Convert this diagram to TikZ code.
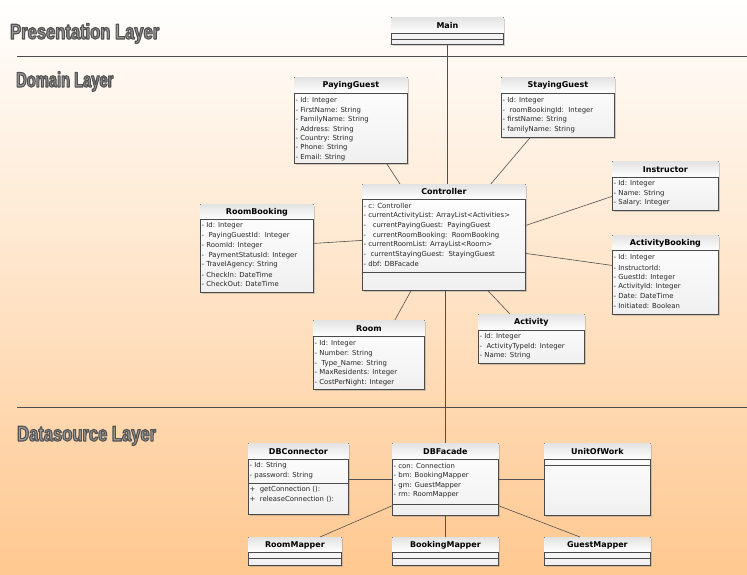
\documentclass[tikz,border=0pt]{standalone}
\usepackage{fontspec}
\setmainfont{DejaVu Sans}
\newfontfamily\layerfont[FakeStretch=0.7]{Liberation Sans}
\newfontfamily\layerfontwide[FakeStretch=0.77]{Liberation Sans}
\usetikzlibrary{shadows,calc}
\definecolor{bgmid}{HTML}{FDDDBF}
\definecolor{bgbot}{HTML}{FFC890}
\definecolor{boxline}{HTML}{4A4A4A}
\definecolor{connline}{HTML}{505050}
\definecolor{layertxt}{HTML}{9C9C9C}
\tikzset{
  classbox/.style={draw=boxline, line width=0.8pt, top color=white, bottom color=gray!12,
    drop shadow={opacity=0.35, shadow xshift=1.6pt, shadow yshift=-1.6pt},
    inner sep=0pt, anchor=north west},
  hdrfill/.style={top color=gray!22, bottom color=white},
  ctitle/.style={font=\bfseries\fontsize{8}{9}\selectfont, inner sep=0pt},
  cattr/.style={font=\fontsize{6.9}{7.5}\selectfont, inner sep=0pt, anchor=west, text=black!85},
  sepline/.style={draw=boxline, line width=0.6pt},
  conn/.style={draw=connline, line width=0.6pt},
  layerline/.style={draw=gray!60!black, line width=0.8pt},
  layerlabel/.style={font=\layerfont\bfseries\fontsize{21}{24}\selectfont, inner sep=0pt,
    anchor=base west, text=layertxt},
  layerlabelwide/.style={layerlabel, font=\layerfontwide\bfseries\fontsize{21.5}{24}\selectfont},
}
% name, x, y, w, h, title, header height
\newcommand\umlbox[7]{%
  \node[classbox, minimum width=#4pt, minimum height=#5pt] (#1) at (#2,#3) {};
  \fill[hdrfill] ($(#1.north west)+(0.5,0.5)$) rectangle ($(#1.north east)+(-0.5,#7)$);
  \draw[sepline] ($(#1.north west)+(0,#7)$) -- ($(#1.north east)+(0,#7)$);
  \node[ctitle] at ($(#1.north)+(0,#7/2+0.5)$) {#6};
}
\newcommand\sepat[2]{%
  \draw[sepline] ($(#1.north west)+(0,#2)$) -- ($(#1.north east)+(0,#2)$);
}
% name, first offset, spacing, list
\newcommand\attrlist[4]{%
  \foreach \t [count=\i] in {#4} {
    \node[cattr] at ($(#1.north west)+(1.5,{#2+(\i-1)*#3})$) {\t};
  }
}
% outlined text: fill + stroke rendering mode
\newcommand\outlinedtext[1]{%
  \special{pdf:literal direct 2 Tr 1.1 w 0.32 0.32 0.32 RG 1 j}#1\special{pdf:literal direct 0 Tr}}
\begin{document}
\begin{tikzpicture}[x=1pt, y=-1pt]
\useasboundingbox (0,0) rectangle (747,574);
\shade[top color=white, middle color=bgmid, bottom color=bgbot] (0,0) rectangle (747,574);

% layer separators and titles
\draw[layerline] (17,56) -- (747,56);
\draw[layerline] (17,407) -- (747,407);
\node[layerlabelwide] (lpres) at (10,39) {\outlinedtext{Presentation Layer}};
\node[layerlabel] (ldom) at (16,87) {\outlinedtext{Domain Layer}};
\node[layerlabelwide] (ldata) at (17,441) {\outlinedtext{Datasource Layer}};

% classes
\umlbox{Main}{391}{17}{112}{27}{Main}{16}
\sepat{Main}{22}

\umlbox{PayingGuest}{294}{77}{113}{86}{PayingGuest}{16}
\attrlist{PayingGuest}{24}{9.4}{{- Id: Integer},{- FirstName: String},{- FamilyName: String},{- Address: String},{- Country: String},{- Phone: String},{- Email: String}}

\umlbox{StayingGuest}{501}{77}{113}{60}{StayingGuest}{16}
\attrlist{StayingGuest}{24}{9.5}{{- Id: Integer},{-~~roomBookingId:~~Integer},{- firstName: String},{- familyName: String}}

\umlbox{Instructor}{612}{161}{106}{49}{Instructor}{16}
\attrlist{Instructor}{23}{9.5}{{- Id: Integer},{- Name: String},{- Salary: Integer}}

\umlbox{ActivityBooking}{612}{235}{106}{79}{ActivityBooking}{15}
\attrlist{ActivityBooking}{23}{9.6}{{- Id: Integer},{- InstructorId:},{- GuestId: Integer},{- ActivityId: Integer},{- Date: DateTime},{- Initiated: Boolean}}

\umlbox{Controller}{362}{184}{163}{106}{Controller}{15}
\attrlist{Controller}{22}{9.7}{{- c: Controller},{- currentActivityList: ArrayList<Activities>},{-~~~currentPayingGuest:~~PayingGuest},{-~~~currentRoomBooking:~~RoomBooking},{- currentRoomList: ArrayList<Room>},{-~~currentStayingGuest:~~StayingGuest},{- dbf: DBFacade}}
\sepat{Controller}{88}

\umlbox{RoomBooking}{200}{204}{113}{88}{RoomBooking}{15}
\attrlist{RoomBooking}{22}{9.7}{{- Id: Integer},{-~~PayingGuestId:~~Integer},{- RoomId: Integer},{-~~PaymentStatusId: Integer},{- TravelAgency: String},{- CheckIn: DateTime},{- CheckOut: DateTime}}

\umlbox{Room}{313}{320}{111}{69}{Room}{16}
\attrlist{Room}{24}{9.6}{{- Id: Integer},{- Number: String},{-~~Type\_Name: String},{- MaxResidents: Integer},{- CostPerNight: Integer}}

\umlbox{Activity}{478}{314}{106}{49}{Activity}{16}
\attrlist{Activity}{23}{9.5}{{- Id: Integer},{-~~ActivityTypeId: Integer},{- Name: String}}

\umlbox{DBConnector}{248}{443}{100}{71}{DBConnector}{16}
\attrlist{DBConnector}{23}{10}{{- Id: String},{- password: String}}
\sepat{DBConnector}{40}
\attrlist{DBConnector}{47}{9.5}{{+~~getConnection ():},{+~~releaseConnection ():}}

\umlbox{DBFacade}{392}{443}{106}{72}{DBFacade}{16}
\attrlist{DBFacade}{23}{9.7}{{- con: Connection},{- bm: BookingMapper},{- gm: GuestMapper},{- rm: RoomMapper}}
\sepat{DBFacade}{61}

\umlbox{UnitOfWork}{544}{443}{106}{72}{UnitOfWork}{16}
\sepat{UnitOfWork}{22}

\umlbox{RoomMapper}{248}{537}{93}{28}{RoomMapper}{15}
\sepat{RoomMapper}{21}
\umlbox{BookingMapper}{392}{537}{106}{28}{BookingMapper}{15}
\sepat{BookingMapper}{21}
\umlbox{GuestMapper}{544}{537}{106}{28}{GuestMapper}{15}
\sepat{GuestMapper}{21}

% connectors
\draw[conn] (Main.south) -- (Controller.north -| Main.south);
\draw[conn] (DBFacade.north) -- (DBFacade.north |- Controller.south);
\draw[conn] ($(PayingGuest.south east)+(-21,0)$) -- ($(Controller.north west)+(38,0)$);
\draw[conn] ($(StayingGuest.south west)+(29,0)$) -- ($(Controller.north east)+(-35,0)$);
\draw[conn] ($(Instructor.west)+(0,10.5)$) -- ($(Controller.east)+(0,-12)$);
\draw[conn] ($(ActivityBooking.west)+(0,-9.5)$) -- ($(Controller.east)+(0,16)$);
\draw[conn] ($(RoomBooking.east)+(0,-5)$) -- ($(Controller.west)+(0,3)$);
\draw[conn] ($(Room.north)+(26,0)$) -- ($(Controller.south west)+(49,0)$);
\draw[conn] ($(Activity.north west)+(32,0)$) -- ($(Controller.south west)+(126,0)$);
\draw[conn] (DBConnector.east) -- (DBFacade.west |- DBConnector.east);
\draw[conn] (DBFacade.east) -- (UnitOfWork.west);
\draw[conn] ($(RoomMapper.north west)+(72,0)$) -- ($(DBFacade.south west)+(0,-10)$);
\draw[conn] (BookingMapper.north) -- (DBFacade.south);
\draw[conn] ($(GuestMapper.north west)+(36,0)$) -- ($(DBFacade.south east)+(0,-10)$);
\end{tikzpicture}
\end{document}
